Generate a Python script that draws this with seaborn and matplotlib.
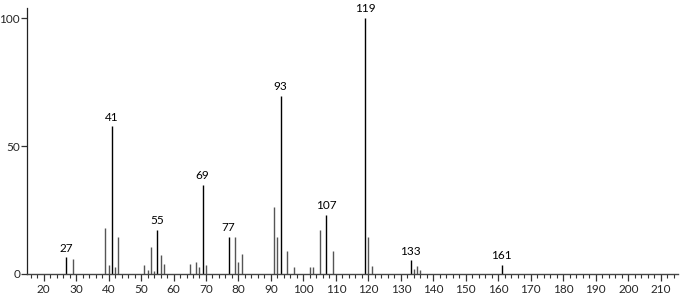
import matplotlib
matplotlib.use("Agg")
import matplotlib.pyplot as plt
import seaborn as sns
import numpy as np
from matplotlib.ticker import MultipleLocator

mz = [27, 29, 39, 40, 41, 42, 43, 51, 52, 53, 54, 55, 56, 57,
      65, 67, 68, 69, 70, 77, 79, 80, 81, 91, 92, 93, 95, 97,
      102, 103, 105, 107, 109, 119, 120, 121, 133, 134, 135, 136, 161]
intensity = [6.5, 5.7, 17.9, 3.5, 57.7, 2.9, 14.6, 3.5, 1.6, 10.4, 1.3, 17.2, 7.4, 3.9,
             3.9, 4.6, 2.9, 34.7, 3.5, 14.6, 14.6, 4.7, 7.7, 26.2, 14.6, 69.5, 9.0, 2.9,
             2.9, 2.9, 17.2, 23.1, 9.0, 100.0, 14.6, 3.1, 5.3, 2.1, 3.1, 1.6, 3.5]
labeled = [27, 41, 55, 69, 77, 93, 107, 119, 133, 161]
x_ticks = list(range(20, 211, 10))
y_ticks = [0, 50, 100]

sns.set_style("ticks")
plt.rcParams['font.family'] = ['Lato', 'DejaVu Sans']

fig = plt.figure(figsize=(6.8, 2.96), dpi=100)
ax = fig.add_axes([27/680, 1-274/296, 1-27/680-2/680, (274-8)/296])

mz_a = np.array(mz)
it_a = np.array(intensity)
is_lab = np.isin(mz_a, labeled)
ax.vlines(mz_a[~is_lab], 0, it_a[~is_lab], color="#555555", linewidth=1.0)
ax.vlines(mz_a[is_lab], 0, it_a[is_lab], color="#000000", linewidth=1.0)

for m, v in zip(mz, intensity):
    if m in labeled:
        ax.text(m, v + 1.5, str(m), ha="center", va="bottom", fontsize=8.5, color="black")

ax.set_xlim(14.9, 215.3)
ax.set_ylim(0, 104)
ax.set_xticks(x_ticks)
ax.set_yticks(y_ticks)
ax.xaxis.set_minor_locator(MultipleLocator(2))
ax.tick_params(axis="x", which="major", length=5, width=0.9, color="#333333", labelsize=8.5, pad=2)
ax.tick_params(axis="x", which="minor", length=3, width=0.8, color="#333333")
ax.tick_params(axis="y", which="major", length=4, width=0.9, color="#333333", labelsize=8.5, pad=1)
for s in ["top", "right"]:
    ax.spines[s].set_visible(False)
ax.spines["left"].set_color("#222222")
ax.spines["bottom"].set_color("#444444")
ax.spines["left"].set_linewidth(0.9)
ax.spines["bottom"].set_linewidth(1.0)

fig.savefig("out.png", dpi=100)
